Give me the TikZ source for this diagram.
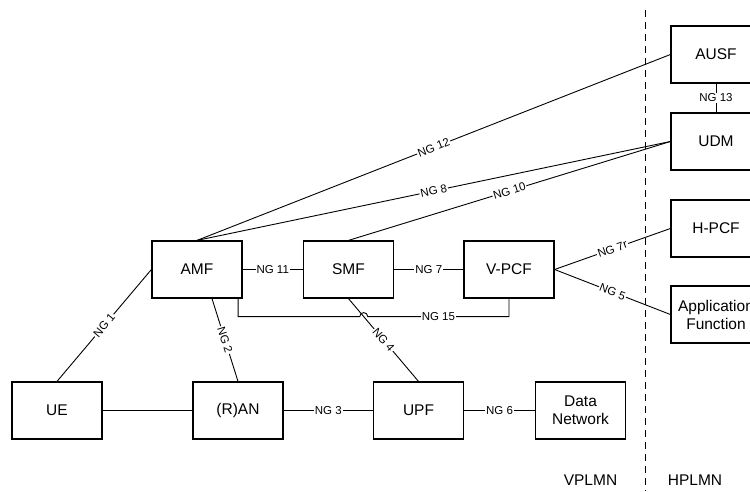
\documentclass[tikz,border=0pt]{standalone}
\usepackage{fontspec}
\setsansfont{Liberation Sans}
\tikzset{%
  % Specifications for style of nodes:
        nf/.style = {rectangle, draw=black, line width=1.2pt,
                     minimum width=90pt, minimum height=57pt,
                     text centered, align=center,
                     font=\sffamily\fontsize{15.5}{18}\selectfont},
      plmn/.style = {font=\sffamily\fontsize{15.5}{18}\selectfont},
     iface/.style = {inner sep=1pt,
                     font=\sffamily\fontsize{11.5}{12}\selectfont},
      link/.style = {line width=0.9pt},
    border/.style = {line width=0.9pt, dash pattern=on 7pt off 5pt},
}

\begin{document}
\begin{tikzpicture}[x=1pt, y=1pt,
    every node/.style={fill=white, font=\sffamily}]

  % Frame of the picture
  \coordinate (frameSW) at (-57,-80.5);
  \coordinate (frameNE) at (693,410.5);
  \useasboundingbox (frameSW) rectangle (frameNE);
  \clip (frameSW) rectangle (frameNE);

  % Specification of nodes (position, etc.)
  \node (UE)    [nf]                                          {UE};
  \node (RAN)   [nf, right of=UE,   node distance=181pt]      {(R)AN};
  \node (UPF)   [nf, right of=RAN,  node distance=180.5pt]    {UPF};
  \node (DN)    [nf, right of=UPF,  node distance=162pt]      {Data\\Network};
  \node (AMF)   [nf, above of=UE,   node distance=141pt, xshift=140pt] {AMF};
  \node (SMF)   [nf, right of=AMF,  node distance=151.5pt]    {SMF};
  \node (VPCF)  [nf, right of=SMF,  node distance=160.5pt]    {V-PCF};
  \node (HPCF)  [nf, right of=VPCF, node distance=207pt, yshift=41pt] {H-PCF};
  \node (AF)    [nf, below of=HPCF, node distance=86pt]       {Application\\Function};
  \node (UDM)   [nf, above of=HPCF, node distance=87pt]       {UDM};
  \node (AUSF)  [nf, above of=UDM,  node distance=87pt]       {AUSF};

  \node (vplmn) [plmn, below of=DN, node distance=70pt, xshift=10pt] {VPLMN};
  \node (hplmn) [plmn, right of=vplmn, node distance=104.5pt]        {HPLMN};

  % Border between visited and home network
  \coordinate (divTop) at (588,400.5);
  \coordinate (divBot) at (588,-80.5);
  \draw[border] (divTop) -- (divBot);

  % Specification of lines between nodes specified above
  \draw[link] (UE) -- (RAN);
  \draw[link] (RAN) -- node[iface] {NG 3} (UPF);
  \draw[link] (UPF) -- node[iface] {NG 6} (DN);
  \draw[link] (AMF.west) -- node[iface, sloped] {NG 1} (UE.north);
  \draw[link] ([xshift=15pt]AMF.south) -- node[iface, sloped] {NG 2} (RAN.north);
  \draw[link] (AMF) -- node[iface] {NG 11} (SMF);
  \draw[link] (SMF) -- node[iface] {NG 7} (VPCF);
  \draw[link] (SMF.south) -- node[iface, sloped] {NG 4} (UPF.north);
  \draw[link] (AMF.north) -- node[iface, sloped] {NG 12} (AUSF.west);
  \draw[link] (AMF.north) -- node[iface, sloped] {NG 8} (UDM.west);
  \draw[link] (SMF.north) -- node[iface, sloped] {NG 10} (UDM.west);
  \draw[link] (AUSF) -- node[iface] {NG 13} (UDM);
  \draw[link] (VPCF.east) -- node[iface, sloped] {NG 7r} (HPCF.west);
  \draw[link] (VPCF.east) -- node[iface, sloped] {NG 5} (AF.west);

  % NG 15 jumps over NG 4
  \coordinate (n15a) at ([xshift=-4.5pt,yshift=-18pt]AMF.south east);
  \coordinate (n15b) at (VPCF.south |- n15a);
  \coordinate (hop) at (intersection of SMF.south--UPF.north and n15a--n15b);
  \draw[link] ([xshift=-4.5pt]AMF.south east) -- (n15a) -- ([xshift=-4pt]hop)
      arc[start angle=180, end angle=0, radius=4pt]
      -- node[iface] {NG 15} (n15b) -- (VPCF.south);

\end{tikzpicture}
\end{document}
